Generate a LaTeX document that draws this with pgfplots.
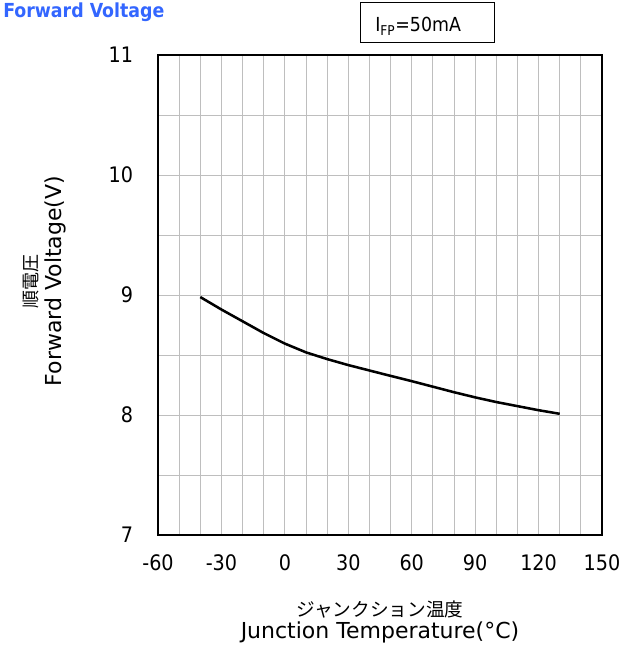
\documentclass[border=0pt]{standalone}
\usepackage{pgfplots}
\pgfplotsset{compat=1.18}
\usepackage{fontspec}
\setmainfont{DejaVu Sans}
\newfontfamily\cond{DejaVu Sans Condensed}
\newfontfamily\cjk{Noto Sans CJK JP}
\definecolor{titleblue}{RGB}{51,102,255}
\definecolor{gridgray}{RGB}{190,190,190}
\begin{document}
\begin{tikzpicture}
\begin{scope}[x=0.75pt,y=-0.75pt]
\useasboundingbox (0,0) rectangle (633,645);
\node[anchor=north west, inner sep=0, font=\cond\bfseries\fontsize{14.5}{16}\selectfont, text=titleblue] at (3,3) {Forward Voltage};
\draw[line width=0.75pt] (360,3) rectangle (494,43);
\node[anchor=base west, inner sep=0, font=\cond\fontsize{14.5}{16}\selectfont] at (375,32) {I\textsubscript{FP}=50mA};
\end{scope}
\begin{axis}[
 at={(118.5pt,-401.25pt)}, anchor=south west,
 scale only axis, width=333pt, height=360pt,
 xmin=-60,xmax=150,ymin=7,ymax=11,
 xtick={-60,-30,...,150}, xticklabels={-60,-30,0,30,60,90,120,150},
 minor xtick={-50,-40,...,140},
 ytick={7,8,9,10,11}, yticklabels={7,8,9,10,11},
 minor ytick={7.5,8.5,9.5,10.5},
 grid=both,
 major grid style={gridgray, line width=0.75pt},
 minor grid style={gridgray, line width=0.75pt},
 axis line style={line width=1.8pt},
 major tick length=0pt, minor tick length=0pt,
 tick label style={font=\cond\fontsize{16}{18}\selectfont},
 yticklabel style={xshift=-15.2pt},
 xticklabel style={yshift=-11pt},
 xlabel={{\cjk\fontsize{14}{16}\selectfont ジャンクション温度}\\Junction Temperature(°C)},
 xlabel style={align=center, font=\fontsize{16.5}{16}\selectfont, at={(axis description cs:0.5,-0.137)}, anchor=north, inner sep=0pt},
 ylabel={{\cjk\fontsize{13.5}{16}\selectfont 順電圧}\\Forward Voltage(V)},
 ylabel style={align=center, font=\fontsize{16.5}{18}\selectfont, at={(axis description cs:-0.2072,0.529)}, anchor=south, inner sep=0pt},
]
\addplot[black, line width=1.9pt] coordinates {
(-40,8.983) (-30,8.879) (-20,8.781) (-10,8.683) (0,8.595) (10,8.522) (20,8.466) (30,8.416) (40,8.371) (50,8.326) (60,8.282) (70,8.236) (80,8.19) (90,8.147) (100,8.108) (110,8.074) (120,8.04) (130,8.01)
};
\end{axis}
\end{tikzpicture}
\end{document}
